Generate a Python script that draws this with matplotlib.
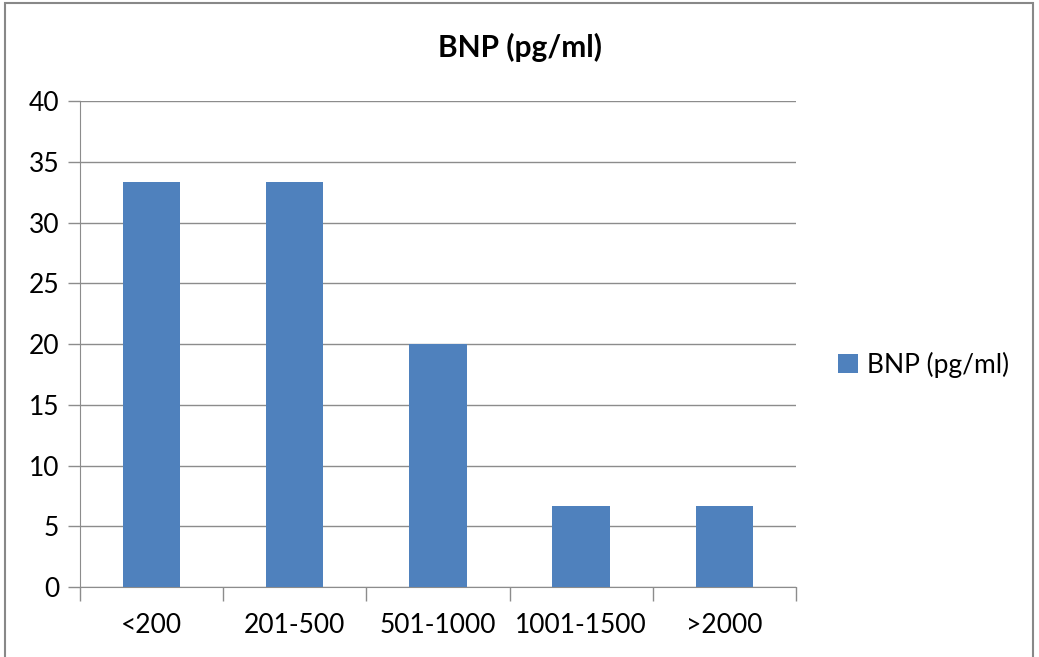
import matplotlib.pyplot as plt
from matplotlib.patches import Rectangle
import numpy as np

categories = ["<200", "201-500", "501-1000", "1001-1500", ">2000"]
values = [33.33, 33.33, 20.0, 6.67, 6.67]
series_name = "BNP (pg/ml)"

plt.rcParams['font.family'] = ['Lato', 'DejaVu Sans']

fig = plt.figure(figsize=(10.39, 6.57), dpi=100)
ax = fig.add_axes([0.077, 0.1065, 0.689, 0.7395])

x = np.arange(len(categories))
bars = ax.bar(x, values, width=0.4, color="#4F81BD", label=series_name, zorder=3)

ax.set_xlim(-0.5, len(categories) - 0.5)
ax.set_ylim(0, 40)
ax.set_yticks(range(0, 41, 5))
ax.yaxis.grid(True, color="#8c8c8c", linewidth=1, zorder=0)

# category labels centred under bars, tick marks on the boundaries
ax.set_xticks(x)
ax.set_xticklabels(categories, fontsize=19)
ax.tick_params(axis='x', length=0, pad=19)
ax.set_xticks(np.arange(-0.5, len(categories)), minor=True)
ax.tick_params(axis='x', which='minor', length=10, color="#8c8c8c", width=1)
ax.tick_params(axis='y', labelsize=19, length=9, color="#8c8c8c", width=1, pad=6)

for side in ['top', 'right']:
    ax.spines[side].set_visible(False)
for side in ['left', 'bottom']:
    ax.spines[side].set_color("#8c8c8c")

fig.text(0.5, 0.928, series_name, ha='center', va='center', fontsize=21.5, fontweight='bold')

fig.legend(handles=[bars], labels=[series_name], loc='center left',
           bbox_to_anchor=(0.784, 0.445), frameon=False, fontsize=19,
           handlelength=0.75, handleheight=0.75, handletextpad=0.35)

# outer chart border
fig.patches.append(Rectangle((5 / 1039, -0.05), 1028 / 1039, 0.05 + 654 / 657,
                             transform=fig.transFigure, fill=False,
                             edgecolor="#888888", linewidth=1.5))

fig.savefig("out.png", dpi=100)
